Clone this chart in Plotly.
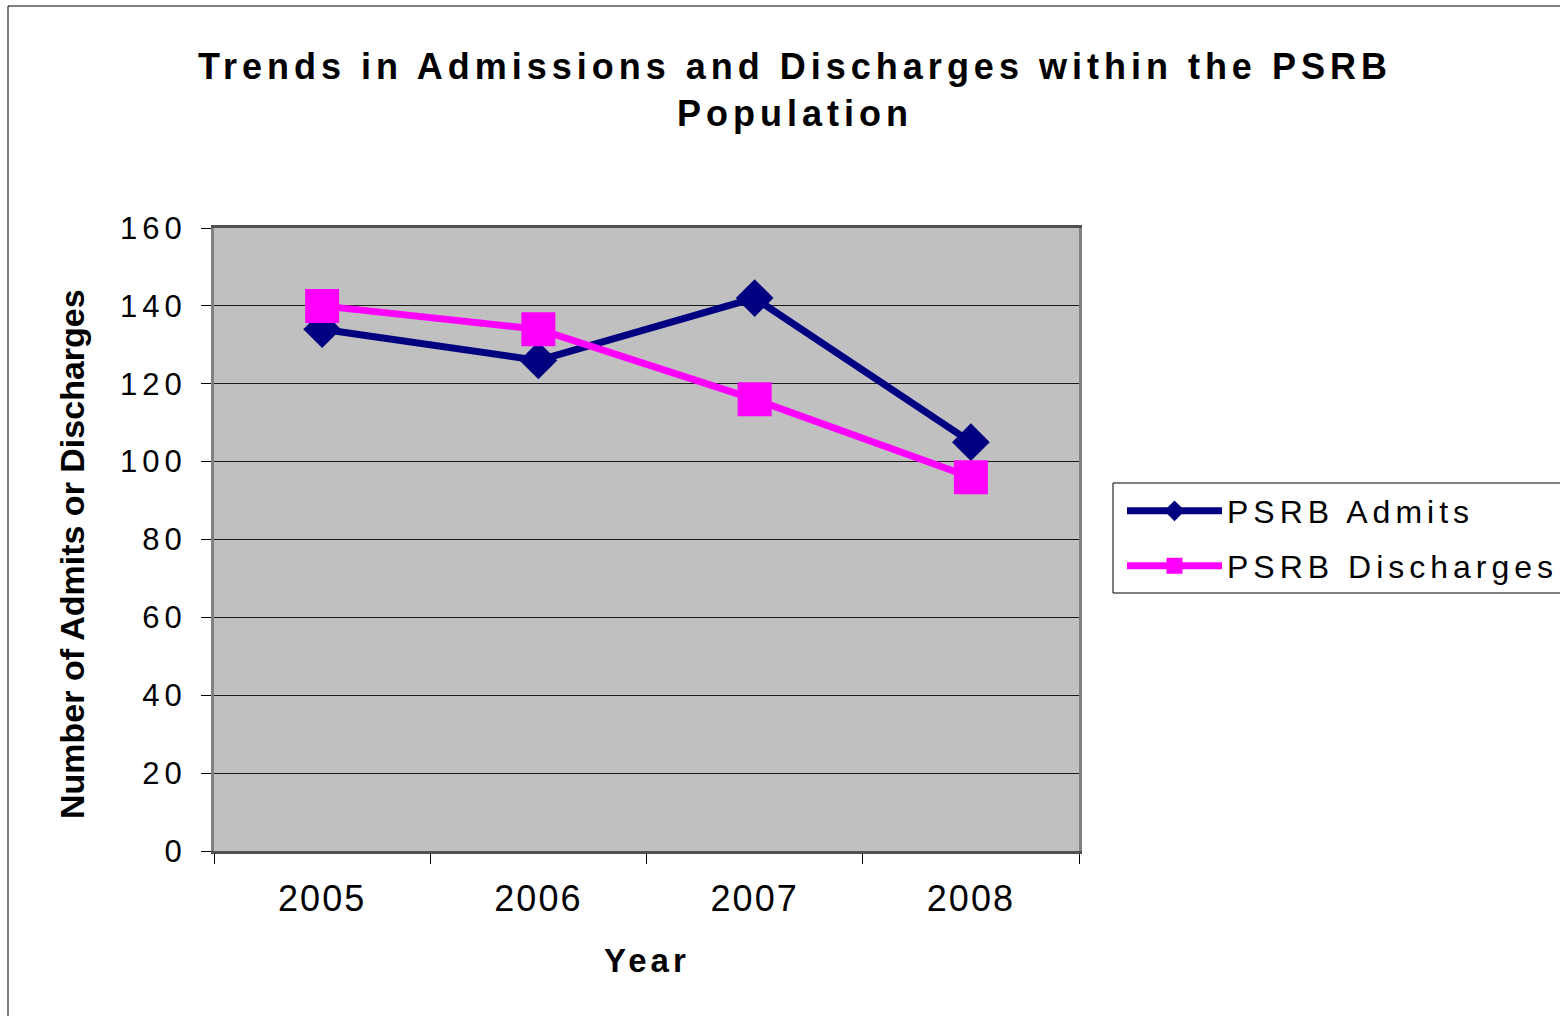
import plotly.graph_objects as go

years = ["2005", "2006", "2007", "2008"]
admits = [134, 126, 142, 105]
discharges = [140, 134, 116, 96]
y_ticks = [0, 20, 40, 60, 80, 100, 120, 140, 160]

FONT = "Liberation Sans, Arial, sans-serif"
W, H = 1560, 1016
L, R, T, B = 214, 1079, 228, 851
pw, ph = R - L, B - T


def px(x):
    return (x - L) / pw


def py(y):
    return (B - y) / ph


fig = go.Figure()
fig.add_trace(go.Scatter(
    x=years, y=admits, name="PSRB Admits", mode="lines+markers",
    line=dict(color="#000080", width=7),
    marker=dict(symbol="diamond", size=29, color="#000080"),
    legend="legend",
))
fig.add_trace(go.Scatter(
    x=years, y=discharges, name="PSRB Discharges", mode="lines+markers",
    line=dict(color="#FF00FF", width=7),
    marker=dict(symbol="square", size=34, color="#FF00FF"),
    legend="legend2",
))

legend_common = dict(
    font=dict(family=FONT, size=32, color="black"),
    bgcolor="rgba(0,0,0,0)", borderwidth=0,
    xanchor="left", yanchor="middle", itemwidth=95,
)

fig.update_layout(
    width=W, height=H,
    margin=dict(l=L, r=W - R, t=T, b=H - B, pad=0),
    paper_bgcolor="white",
    plot_bgcolor="#C0C0C0",
    font=dict(family=FONT, color="black"),
    title=dict(
        text="Trends in Admissions and Discharges within the PSRB<br>Population",
        font=dict(family=FONT, size=36, color="black", weight="bold"),
        x=795 / W, xanchor="center", xref="container",
        y=1 - 79 / H, yanchor="middle", yref="container",
    ),
    xaxis=dict(
        type="category", range=[-0.5, len(years) - 0.5], autorange=False,
        tickson="boundaries", ticks="outside", ticklen=10,
        tickcolor="black", tickwidth=1,
        showline=True, linecolor="#505050", linewidth=3, mirror=True,
        showgrid=False, tickfont=dict(family=FONT, size=36, color="black"),
        ticklabelstandoff=14,
    ),
    yaxis=dict(
        range=[0, 160], tickvals=y_ticks, ticks="outside", ticklen=10,
        tickcolor="black", tickwidth=1,
        showline=True, linecolor="#808080", linewidth=3, mirror=True,
        showgrid=True, gridcolor="#1a1a1a", gridwidth=1, zeroline=False,
        tickfont=dict(family=FONT, size=31, color="black"),
        ticklabelstandoff=8,
    ),
    showlegend=True,
    legend=dict(x=px(1122), y=py(511), **legend_common),
    legend2=dict(x=px(1122), y=py(566), **legend_common),
    annotations=[
        dict(text="Number of Admits or Discharges", textangle=-90,
             x=px(72), y=py(554), xref="paper", yref="paper",
             xanchor="center", yanchor="middle", showarrow=False,
             font=dict(family=FONT, size=34, color="black", weight="bold")),
        dict(text="Year", x=px(647), y=py(960), xref="paper", yref="paper",
             xanchor="center", yanchor="middle", showarrow=False,
             font=dict(family=FONT, size=33, color="black", weight="bold")),
    ],
    shapes=[
        dict(type="rect", xref="paper", yref="paper",
             x0=px(1113), x1=px(1575), y0=py(593), y1=py(483),
             line=dict(color="black", width=1), fillcolor="rgba(0,0,0,0)"),
        dict(type="rect", xref="paper", yref="paper",
             x0=px(8), x1=px(1580), y0=py(1030), y1=py(6),
             line=dict(color="black", width=1), fillcolor="rgba(0,0,0,0)"),
    ],
)

post = """
var s = document.createElement('style');
s.textContent = [
  'html, body { margin: 0 !important; padding: 0 !important; overflow: hidden; }',
  'text.gtitle { letter-spacing: 5px; }',
  '.infolayer g[class^="legend"] text { letter-spacing: 5px; }',
  'text.legendtext { letter-spacing: 5px; }',
  '.ytick text { letter-spacing: 5px; }',
  '.xtick text { letter-spacing: 2px; }',
  '.annotation[data-index="1"] text { letter-spacing: 4px; }',
  '.infolayer g[class^="legend"] .scrollbox { clip-path: none !important; }',
  '.infolayer g[class^="legend"] g { clip-path: none !important; }'
].join('\\n');
document.head.appendChild(s);
"""

fig.write_html("out.html", post_script=post, config={"displayModeBar": False})
